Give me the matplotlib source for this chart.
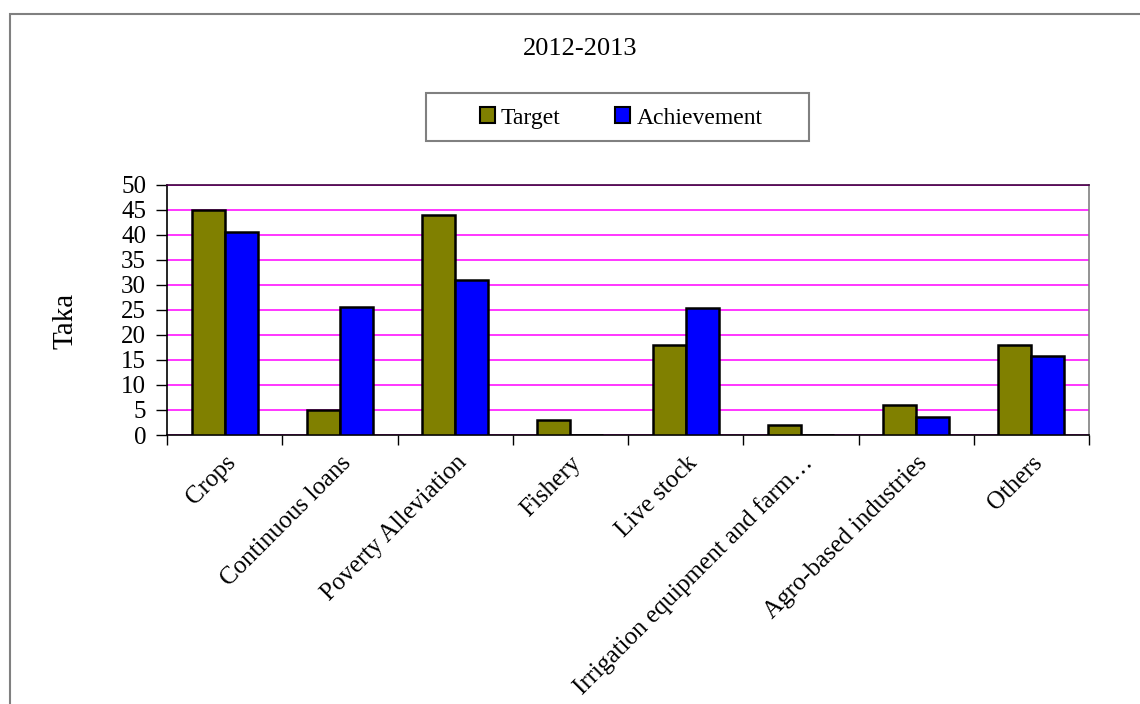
import numpy as np
import matplotlib.pyplot as plt
import matplotlib.transforms as mtransforms
from matplotlib.patches import Rectangle, Patch

plt.rcParams['font.family'] = ['Liberation Serif', 'DejaVu Serif']

categories = ['Crops', 'Continuous loans', 'Poverty Alleviation', 'Fishery',
              'Live stock', 'Irrigation equipment and farm\u2026',
              'Agro-based industries', 'Others']
target = [45, 5, 44, 3, 18, 2, 6, 18]
achievement = [40.5, 25.6, 31, 0, 25.4, 0, 3.5, 15.8]
yticks = [0, 5, 10, 15, 20, 25, 30, 35, 40, 45, 50]

olive = '#808000'
blue = '#0000FF'

fig = plt.figure(figsize=(11.4, 7.04), dpi=100)
ax = fig.add_axes([0.1465, 0.3821, 0.8088, 0.3555])

x = np.arange(len(categories))
w = 0.286
ax.bar(x - w / 2, target, w, color=olive, edgecolor='black', linewidth=1.8, zorder=3)
ax.bar(x + w / 2, achievement, w, color=blue, edgecolor='black', linewidth=1.8, zorder=3)

ax.set_xlim(-0.5, len(categories) - 0.5)
ax.set_ylim(0, 50)
ax.set_yticks(yticks)
ax.yaxis.grid(True, color='#FF00FF', linewidth=1.1, zorder=0)
ax.set_axisbelow(True)

# ticks between categories, labels centered under groups
ax.set_xticks(np.arange(len(categories) + 1) - 0.5)
ax.set_xticklabels([])
ax.set_xticks(x, minor=True)
ax.set_xticklabels(categories, minor=True, rotation=45, ha='right', va='top',
                   rotation_mode='anchor', fontsize=18)
shift = mtransforms.ScaledTranslation(-5 / 100, 0, fig.dpi_scale_trans)
for lab in ax.get_xticklabels(minor=True):
    lab.set_transform(lab.get_transform() + shift)
ax.tick_params(axis='x', which='minor', length=0, pad=12)
ax.tick_params(axis='x', which='major', length=7, width=1, direction='out')
ax.tick_params(axis='y', length=8, width=1, direction='out', labelsize=18, pad=7)

ax.spines['left'].set_color('black')
ax.spines['bottom'].set_color('black')
ax.spines['top'].set_color('#400040')
ax.spines['right'].set_color('#808080')
for s in ax.spines.values():
    s.set_linewidth(1.2)

ax.set_ylabel('Taka', fontsize=21, va='center')
ax.yaxis.set_label_coords(-0.110, 0.455)

fig.text(580 / 1140, 1 - 49 / 704, '2012-2013', ha='center', va='center', fontsize=19)

# legend box
fig.patches.append(Rectangle((426 / 1140, 1 - 141 / 704), 383 / 1140, 48 / 704,
                             transform=fig.transFigure, fill=False,
                             edgecolor='#808080', linewidth=1.5))
handles = [Patch(facecolor=olive, edgecolor='black', linewidth=1.5, label='Target'),
           Patch(facecolor=blue, edgecolor='black', linewidth=1.5, label='Achievement')]
fig.legend(handles=handles, loc='center', bbox_to_anchor=(621 / 1140, 1 - 118 / 704),
           ncol=2, frameon=False, fontsize=17, handlelength=0.65, handleheight=0.65,
           handletextpad=0.25, columnspacing=2.3)

# outer chart border
fig.patches.append(Rectangle((10 / 1140, -0.1), 1.2, 1 - 14 / 704 + 0.1,
                             transform=fig.transFigure, fill=False,
                             edgecolor='#808080', linewidth=1.5))

fig.savefig('out.png', dpi=100)
